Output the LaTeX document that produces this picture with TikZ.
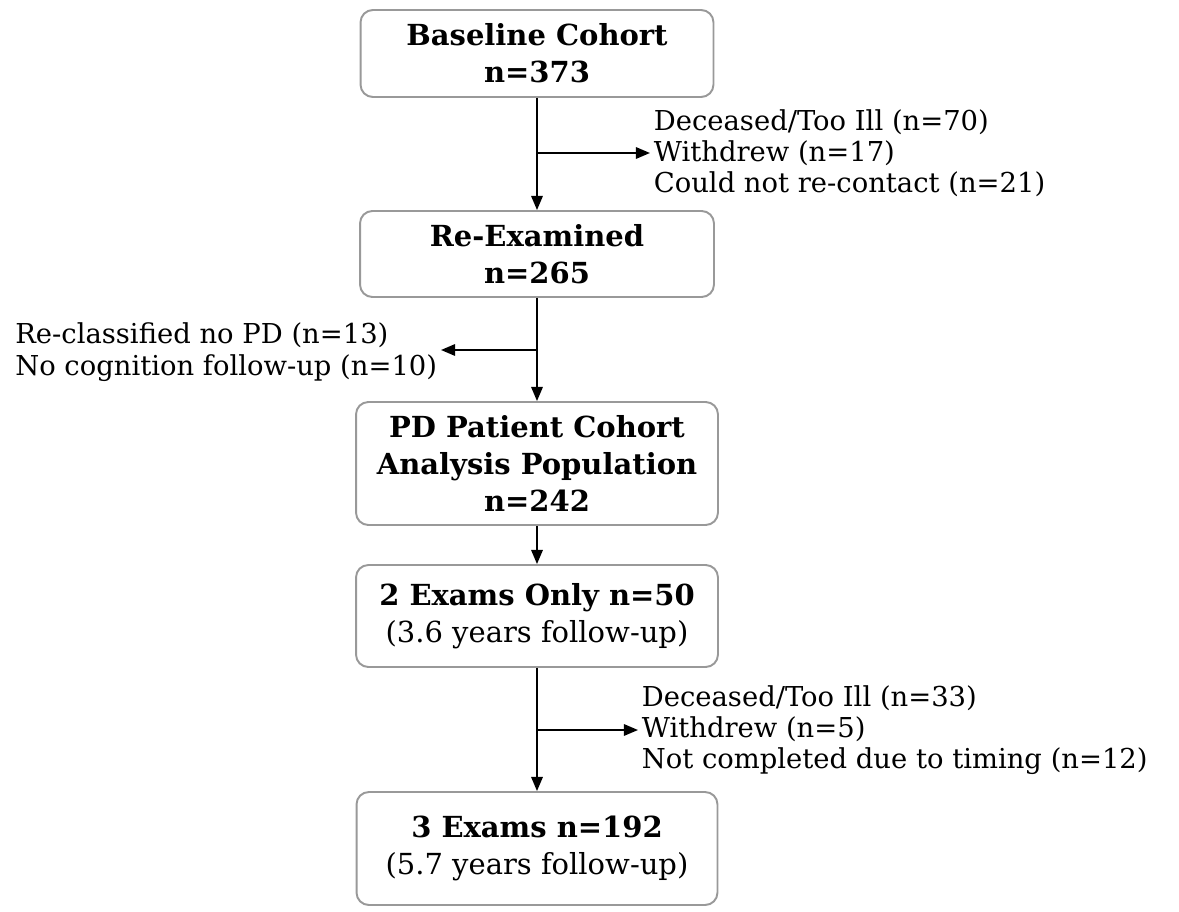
\documentclass[tikz,border=0pt]{standalone}
\usepackage{fontspec}
\setmainfont{DejaVu Serif}
\usetikzlibrary{arrows.meta}

\begin{document}
\begin{tikzpicture}[x=0.02cm,y=-0.02cm,
    >={Triangle[length=8pt,width=6.5pt]},
    box/.style={draw=black!40,line width=1.1pt,rounded corners=7pt,fill=white,
      align=center,inner sep=0pt,font=\fontsize{16.5}{21}\selectfont},
    note/.style={align=left,inner sep=2pt,font=\fontsize{15.6}{17.8}\selectfont},
    flow/.style={->,line width=1pt}]

  \useasboundingbox (0,0) rectangle (1179,912);

  % stages
  \node[box,minimum width=7.06cm,minimum height=1.74cm] (base) at (537,53.5)
    {\textbf{Baseline Cohort}\\\textbf{n=373}};
  \node[box,minimum width=7.08cm,minimum height=1.72cm] (reex) at (537,254)
    {\textbf{Re-Examined}\\\textbf{n=265}};
  \node[box,minimum width=7.24cm,minimum height=2.46cm] (pd) at (537,463.5)
    {\textbf{PD Patient Cohort}\\\textbf{Analysis Population}\\\textbf{n=242}};
  \node[box,minimum width=7.24cm,minimum height=2.04cm] (two) at (537,616)
    {\textbf{2 Exams Only n=50}\\(3.6 years follow-up)};
  \node[box,minimum width=7.22cm,minimum height=2.26cm] (three) at (537,848.5)
    {\textbf{3 Exams n=192}\\(5.7 years follow-up)};

  % drop-outs
  \coordinate (j1) at (537,153);
  \coordinate (j2) at (537,350);
  \coordinate (j3) at (537,730);
  \node[note,anchor=west] (drop1) at (650,153)
    {Deceased/Too Ill (n=70)\\Withdrew (n=17)\\Could not re-contact (n=21)};
  \node[note,anchor=east] (drop2) at (441,352)
    {Re-classified no PD (n=13)\\No cognition follow-up (n=10)};
  \node[note,anchor=west] (drop3) at (638,730)
    {Deceased/Too Ill (n=33)\\Withdrew (n=5)\\Not completed due to timing (n=12)};

  % arrows
  \draw[flow] (base) -- (reex);
  \draw[flow] (reex) -- (pd);
  \draw[flow] (pd) -- (two);
  \draw[flow] (two) -- (three);
  \draw[flow] (j1) -- (drop1.west);
  \draw[flow] (j2) -- (drop2.east |- j2);
  \draw[flow] (j3) -- (drop3.west);
\end{tikzpicture}
\end{document}
